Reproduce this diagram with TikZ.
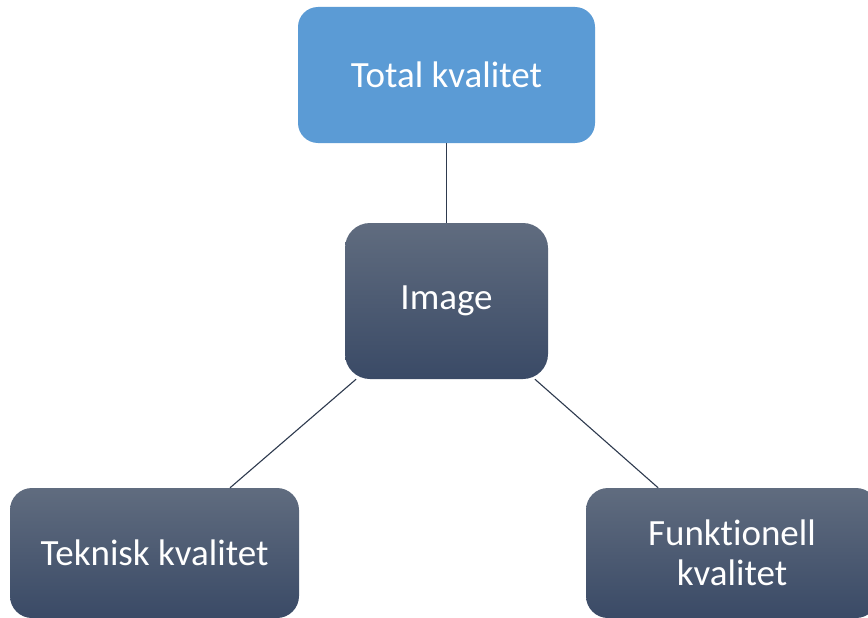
\documentclass[tikz,border=0pt]{standalone}
\usepackage{fontspec}
\setmainfont{Carlito}[Ligatures=NoCommon]
\definecolor{topblue}{HTML}{5B9BD5}
\definecolor{gradtop}{HTML}{606C7F}
\definecolor{gradbot}{HTML}{3A4A66}
\definecolor{linkcol}{HTML}{2E3A4E}
\begin{document}
\begin{tikzpicture}[x=1pt,y=-1pt,
  boxtext/.style={text=white,font=\fontsize{37}{40}\selectfont,align=center,inner sep=0pt},
  bluebox/.style={boxtext,fill=topblue,rounded corners=20pt},
  darkbox/.style={boxtext,top color=gradtop,bottom color=gradbot,rounded corners=22pt},
  link/.style={draw=linkcol,line width=1.1pt}]
\useasboundingbox[fill=white] (0,0) rectangle (868,618);
\node[bluebox,minimum width=297pt,minimum height=136pt] (tot) at (446.5,75) {Total kvalitet};
\node[darkbox,minimum width=203pt,minimum height=156pt,rounded corners=25pt] (img) at (446.5,301) {Image};
\node[darkbox,minimum width=289pt,minimum height=130pt] (tek) at (154.5,553) {Teknisk kvalitet};
\node[darkbox,minimum width=292pt,minimum height=130pt] (fun) at (732,553) {Funktionell\\kvalitet};
\draw[link] (tot) -- (img);
\draw[link] (img) -- (tek);
\draw[link] (img) -- (fun);
\end{tikzpicture}
\end{document}
